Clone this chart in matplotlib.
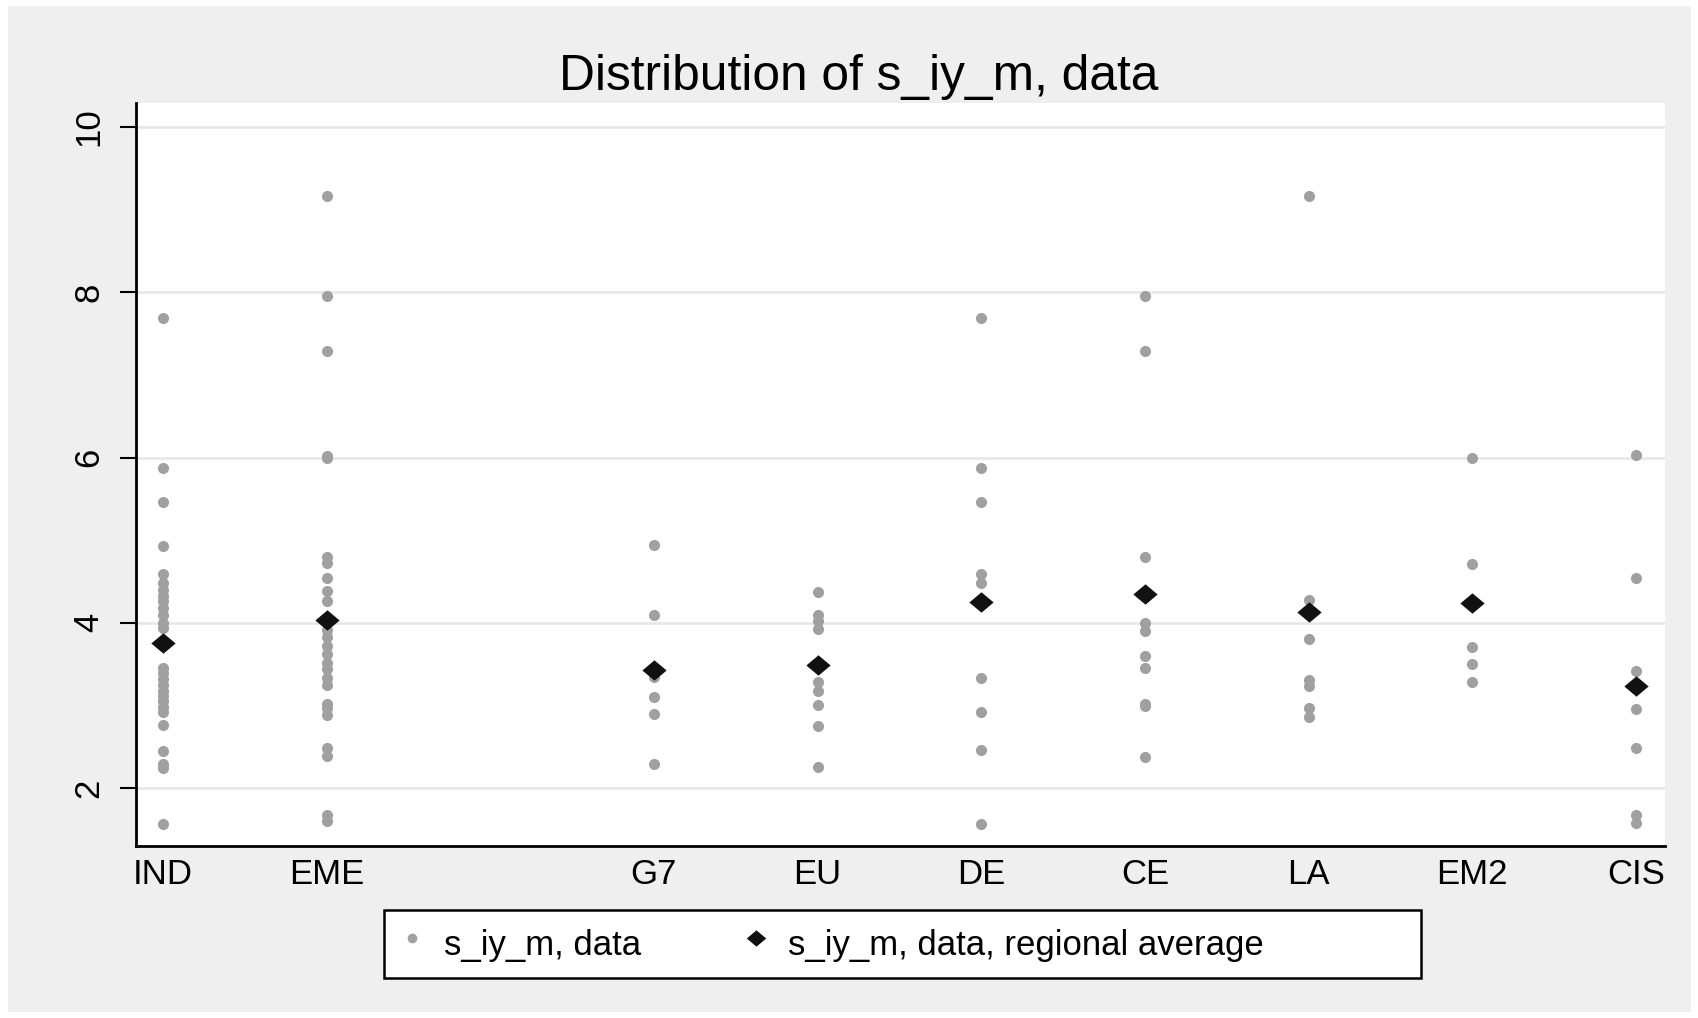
import matplotlib
matplotlib.use("Agg")
import matplotlib.pyplot as plt
from matplotlib.patches import Rectangle
from matplotlib.lines import Line2D

plt.rcParams['font.family'] = ['Liberation Sans', 'DejaVu Sans']

# region codes (numeric, with a gap at 3) and labels
region_codes = [1, 2, 4, 5, 6, 7, 8, 9, 10]
region_labels = ['IND', 'EME', 'G7', 'EU', 'DE', 'CE', 'LA', 'EM2', 'CIS']

# s_iy_m, data
ind_vals = [7.69, 5.87, 5.46, 4.93, 4.59, 4.48, 4.40, 4.33, 4.26, 4.18, 4.09,
            4.00, 3.94, 3.45, 3.39, 3.32, 3.25, 3.18, 3.12, 3.05, 2.98, 2.92,
            2.76, 2.45, 2.29, 2.24, 1.57]
eme_vals = [9.17, 7.95, 7.29, 6.02, 6.00, 4.80, 4.72, 4.54, 4.39, 4.26, 3.91,
            3.83, 3.72, 3.62, 3.51, 3.44, 3.33, 3.25, 3.02, 2.97, 2.89, 2.49,
            2.39, 1.68, 1.60]
g7_vals = [4.94, 4.10, 3.35, 3.10, 2.90, 2.29]
eu_vals = [4.37, 4.10, 4.02, 3.92, 3.28, 3.18, 3.01, 2.75, 2.25]
de_vals = [7.69, 5.87, 5.46, 4.59, 4.48, 3.33, 2.92, 2.46, 1.57]
ce_vals = [7.96, 7.29, 4.80, 4.00, 3.90, 3.60, 3.45, 3.02, 2.99, 2.38]
la_vals = [9.17, 4.28, 3.81, 3.31, 3.23, 2.97, 2.86]
em2_vals = [5.99, 4.71, 3.71, 3.50, 3.29]
cis_vals = [6.03, 4.54, 3.42, 2.96, 2.49, 1.68, 1.58]

# s_iy_m, data, regional average
regional_avg = [3.76, 4.04, 3.43, 3.49, 4.25, 4.35, 4.13, 4.24, 3.24]

y_ticks = [2, 4, 6, 8, 10]

all_vals = [ind_vals, eme_vals, g7_vals, eu_vals, de_vals, ce_vals,
            la_vals, em2_vals, cis_vals]

W, H = 1699, 1018
fig = plt.figure(figsize=(W / 100, H / 100), dpi=100, facecolor='white')

# gray graph region with thin white outer margin
fig.patches.append(Rectangle((8 / W, 6 / H), 1683 / W, 1006 / H,
                             transform=fig.transFigure, facecolor='#efefef',
                             edgecolor='none', zorder=-10))

ax = fig.add_axes([136 / W, 1 - 846 / H, (1665 - 136) / W, (846 - 103) / H])
ax.set_zorder(1)
ax.set_facecolor('white')

# data points
for code, vals in zip(region_codes, all_vals):
    ax.plot([code] * len(vals), vals, linestyle='none', marker='o',
            markersize=8, color='#a0a0a0', markeredgewidth=0, zorder=3)

# regional averages (slightly flattened diamond)
diamond = [(-1, 0), (0, 0.84), (1, 0), (0, -0.84), (-1, 0)]
ax.plot(region_codes, regional_avg, linestyle='none', marker=diamond,
        markersize=17.5, color='#111111', markeredgewidth=0, zorder=4)

ax.set_xlim(0.836, 10.177)
ax.set_ylim(1.30, 10.29)

ax.set_xticks(region_codes)
ax.set_xticklabels(region_labels)
ax.set_yticks(y_ticks)
ax.set_yticklabels([str(t) for t in y_ticks], rotation=90, va='center')

ax.grid(axis='y', color='#e6e6e6', linewidth=1.8, zorder=1)
ax.set_axisbelow(True)

for side in ['top', 'right']:
    ax.spines[side].set_visible(False)
for side in ['left', 'bottom']:
    ax.spines[side].set_linewidth(2.0)
    ax.spines[side].set_color('black')

ax.tick_params(axis='x', length=0, pad=9, labelsize=25)
ax.tick_params(axis='y', length=11.5, width=1.5, pad=10.5, labelsize=25)

fig.text(858.7 / W, 1 - 89.5 / H, 'Distribution of s_iy_m, data',
         ha='center', va='baseline', fontsize=35.7)

# legend
h1 = Line2D([], [], linestyle='none', marker='o', markersize=7,
            color='#a0a0a0', markeredgewidth=0)
h2 = Line2D([], [], linestyle='none', marker=diamond, markersize=14,
            color='#111111', markeredgewidth=0)
h3 = Line2D([], [], linestyle='none')
leg = fig.legend([h1, h2, h3], ['s_iy_m, data', 's_iy_m, data, regional average', ''],
                 ncol=3, loc='center', bbox_to_anchor=(902.5 / W, 1 - 944 / H),
                 fontsize=25, frameon=True, fancybox=False, shadow=False,
                 edgecolor='black', facecolor='white', framealpha=1,
                 handlelength=1.0, handleheight=1.75, handletextpad=0.42,
                 columnspacing=2.8, borderpad=0.3)
leg.get_frame().set_linewidth(1.8)

fig.savefig('out.png', dpi=100, facecolor=fig.get_facecolor())
